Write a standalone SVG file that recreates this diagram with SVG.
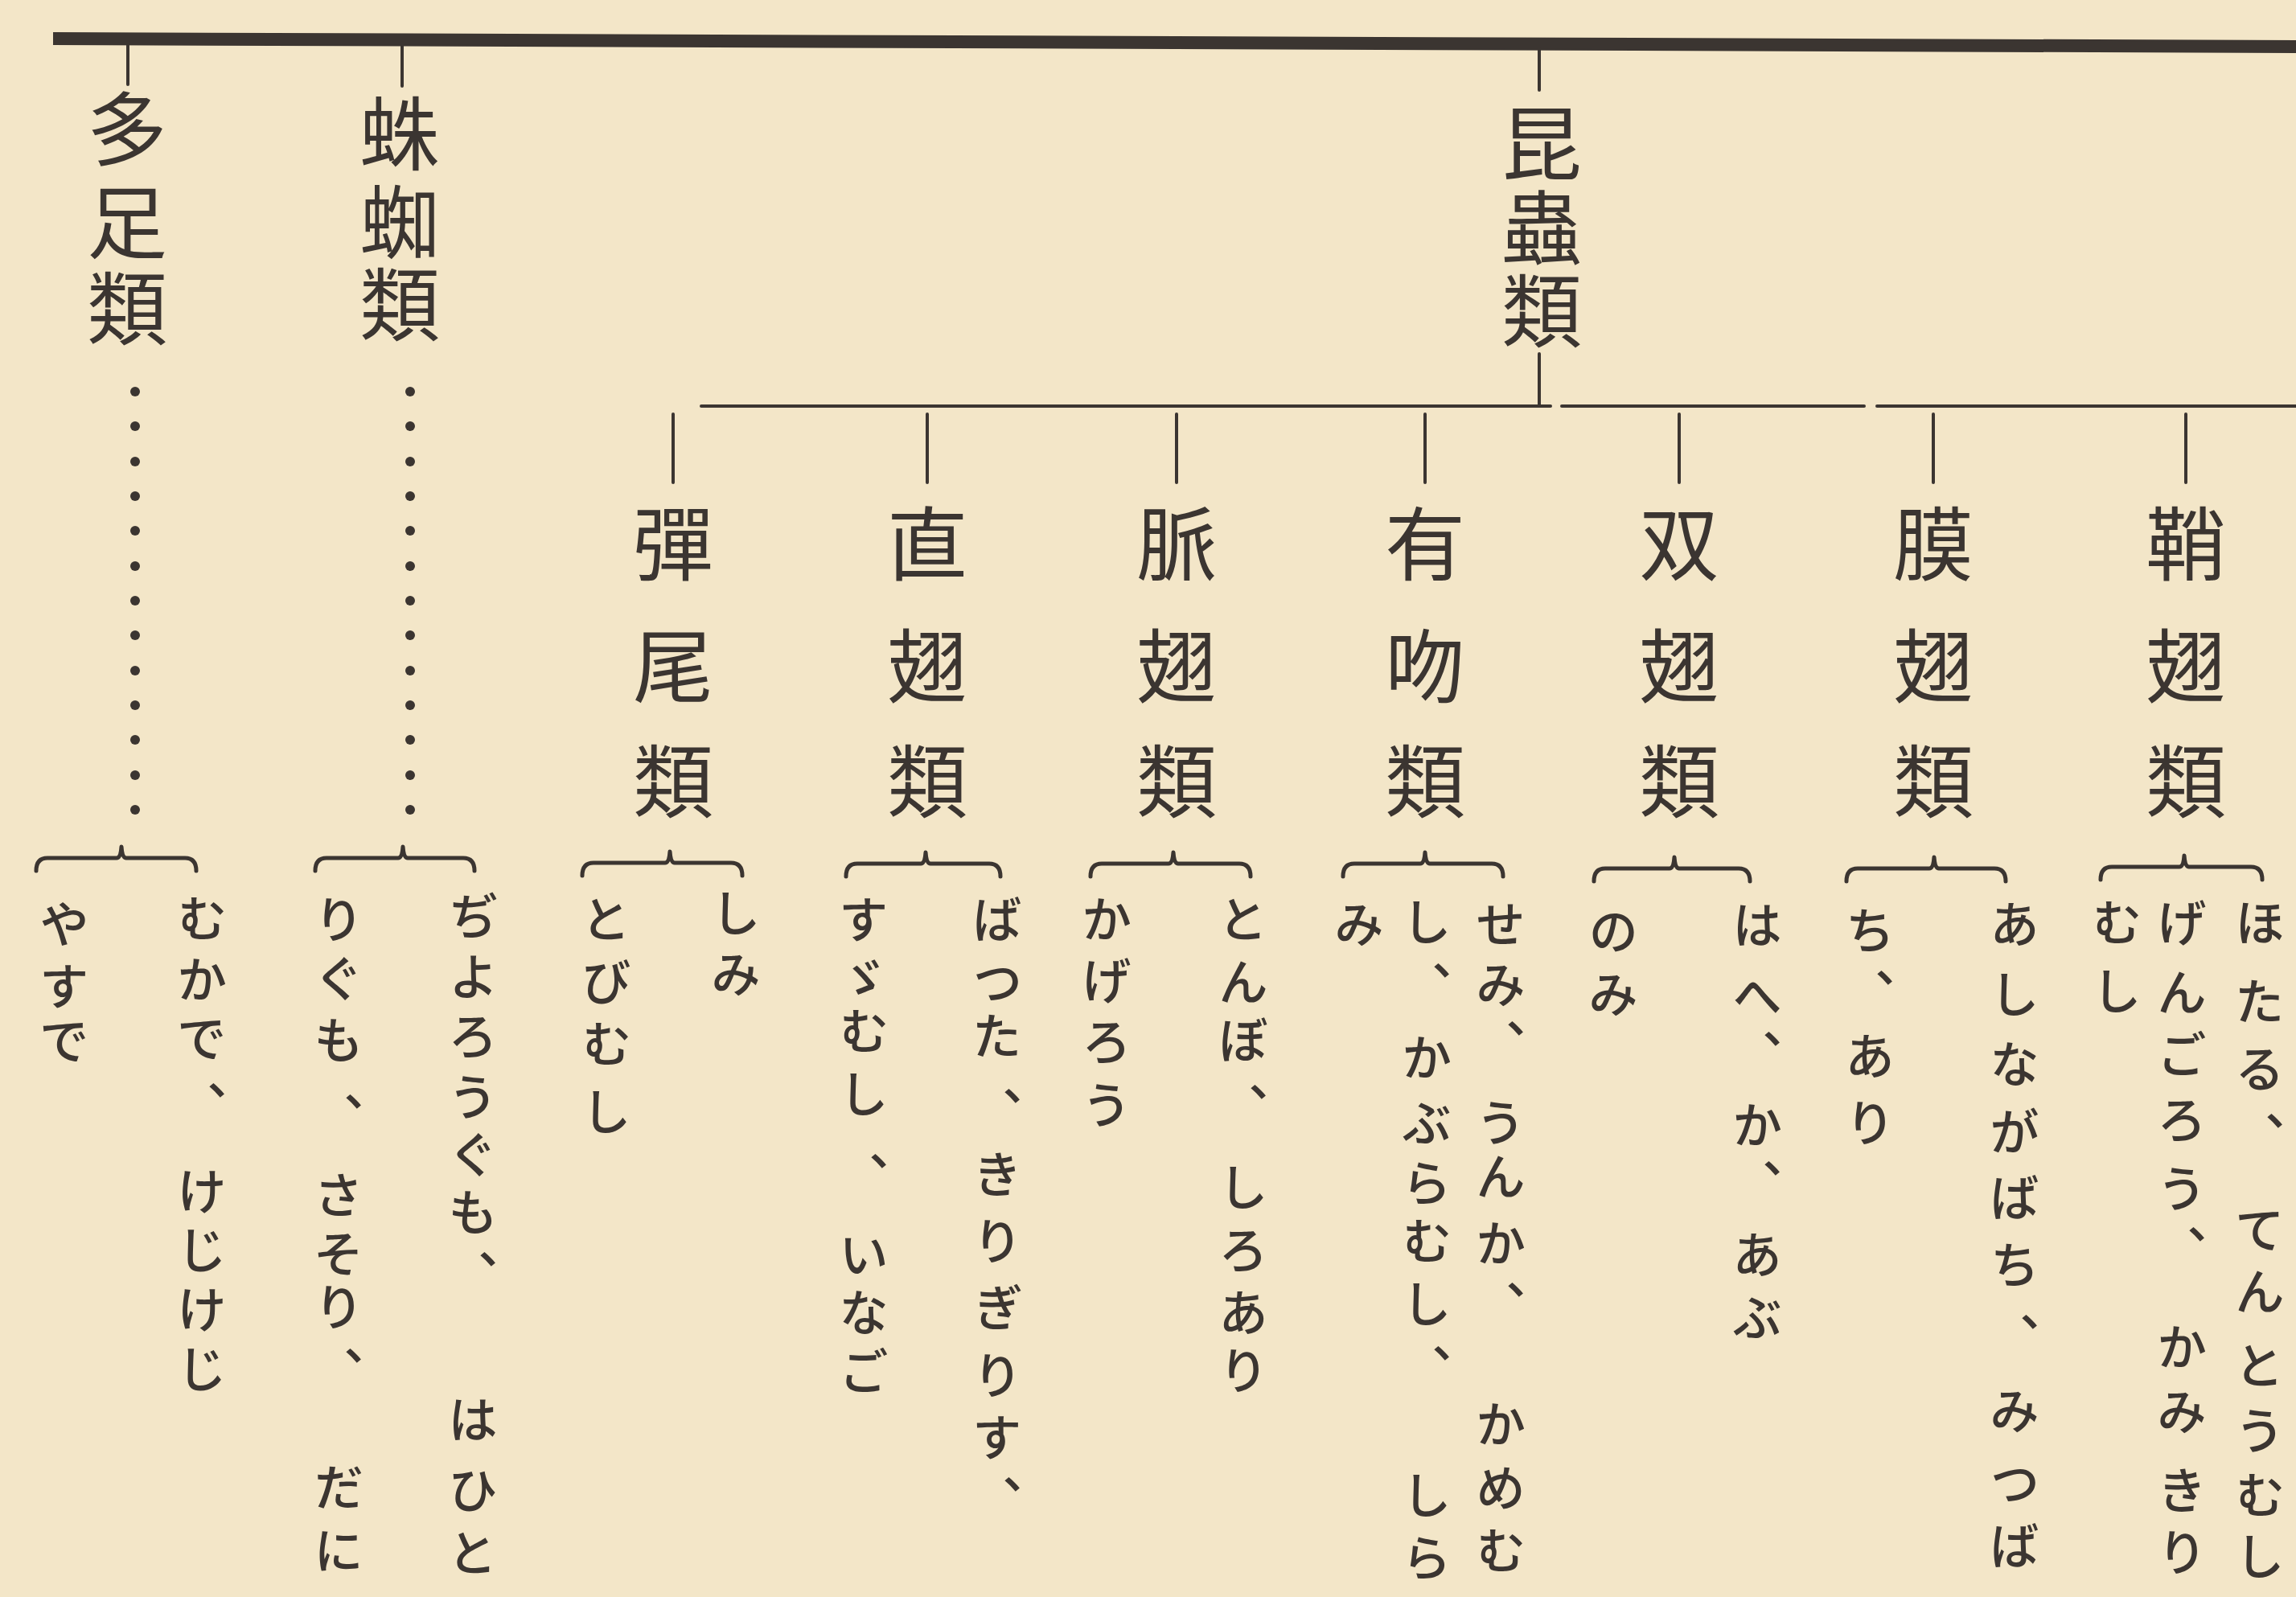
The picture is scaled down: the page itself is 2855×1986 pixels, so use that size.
<svg xmlns="http://www.w3.org/2000/svg" width="2855" height="1986" viewBox="0 0 2855 1986">
<style>
.k{font-family:"Noto Sans CJK JP","Noto Sans CJK SC",sans-serif;font-size:100px;fill:#3b3531;writing-mode:vertical-rl;}
.h{font-family:"Noto Sans CJK JP","Noto Sans CJK SC",sans-serif;font-size:62px;font-weight:500;fill:#3b3531;writing-mode:vertical-rl;}
.ln{stroke:#3b3531;fill:none;stroke-width:4;stroke-linecap:round;}
.br{stroke:#3b3531;fill:none;stroke-width:5;stroke-linecap:round;stroke-linejoin:round;}
.dot{fill:#3b3531;}
</style>
<rect x="0" y="0" width="2855" height="1986" fill="#f3e6c8"/>
<g id="connectors">
  <line x1="66" y1="48" x2="2855" y2="58" stroke="#3b3531" stroke-width="16"/>
  <line class="ln" x1="159" y1="52" x2="159" y2="105"/>
  <line class="ln" x1="500" y1="53" x2="500" y2="107"/>
  <line class="ln" x1="1914" y1="60" x2="1914" y2="112"/>
  <line class="ln" x1="1914" y1="440" x2="1914" y2="505"/>
  <line class="ln" x1="872" y1="505" x2="1928" y2="505"/>
  <line class="ln" x1="1942" y1="505" x2="2318" y2="505"/>
  <line class="ln" x1="2334" y1="505" x2="2855" y2="505"/>
  <line class="ln" x1="837" y1="515" x2="837" y2="600"/>
  <line class="ln" x1="1153" y1="515" x2="1153" y2="600"/>
  <line class="ln" x1="1463" y1="515" x2="1463" y2="600"/>
  <line class="ln" x1="1772" y1="515" x2="1772" y2="600"/>
  <line class="ln" x1="2088" y1="515" x2="2088" y2="600"/>
  <line class="ln" x1="2404" y1="515" x2="2404" y2="600"/>
  <line class="ln" x1="2718" y1="515" x2="2718" y2="600"/>
  <g id="dots-tasoku">
    <circle class="dot" cx="168" cy="487" r="6"/><circle class="dot" cx="168" cy="530" r="6"/><circle class="dot" cx="168" cy="574" r="6"/><circle class="dot" cx="168" cy="617" r="6"/><circle class="dot" cx="168" cy="660" r="6"/><circle class="dot" cx="168" cy="704" r="6"/><circle class="dot" cx="168" cy="747" r="6"/><circle class="dot" cx="168" cy="790" r="6"/><circle class="dot" cx="168" cy="834" r="6"/><circle class="dot" cx="168" cy="877" r="6"/><circle class="dot" cx="168" cy="920" r="6"/><circle class="dot" cx="168" cy="964" r="6"/><circle class="dot" cx="168" cy="1007" r="6"/>
  </g>
  <g id="dots-chishu">
    <circle class="dot" cx="510" cy="487" r="6"/><circle class="dot" cx="510" cy="530" r="6"/><circle class="dot" cx="510" cy="574" r="6"/><circle class="dot" cx="510" cy="617" r="6"/><circle class="dot" cx="510" cy="660" r="6"/><circle class="dot" cx="510" cy="704" r="6"/><circle class="dot" cx="510" cy="747" r="6"/><circle class="dot" cx="510" cy="790" r="6"/><circle class="dot" cx="510" cy="834" r="6"/><circle class="dot" cx="510" cy="877" r="6"/><circle class="dot" cx="510" cy="920" r="6"/><circle class="dot" cx="510" cy="964" r="6"/><circle class="dot" cx="510" cy="1007" r="6"/>
  </g>
  <path class="br" d="M45,1083 Q45,1067 59,1067 L145,1067 Q150,1067 151,1053 Q152,1067 157,1067 L230,1067 Q244,1067 244,1083"/>
  <path class="br" d="M392,1083 Q392,1067 406,1067 L495,1067 Q500,1067 501,1053 Q502,1067 507,1067 L576,1067 Q590,1067 590,1083"/>
  <path class="br" d="M724,1089 Q724,1073 738,1073 L827,1073 Q832,1073 833,1059 Q834,1073 839,1073 L909,1073 Q923,1073 923,1089"/>
  <path class="br" d="M1052,1090 Q1052,1074 1066,1074 L1145,1074 Q1150,1074 1151,1060 Q1152,1074 1157,1074 L1230,1074 Q1244,1074 1244,1090"/>
  <path class="br" d="M1356,1090 Q1356,1074 1370,1074 L1453,1074 Q1458,1074 1459,1060 Q1460,1074 1465,1074 L1541,1074 Q1555,1074 1555,1090"/>
  <path class="br" d="M1670,1090 Q1670,1074 1684,1074 L1766,1074 Q1771,1074 1772,1060 Q1773,1074 1778,1074 L1855,1074 Q1869,1074 1869,1090"/>
  <path class="br" d="M1982,1096 Q1982,1080 1996,1080 L2076,1080 Q2081,1080 2082,1066 Q2083,1080 2088,1080 L2162,1080 Q2176,1080 2176,1096"/>
  <path class="br" d="M2296,1096 Q2296,1080 2310,1080 L2399,1080 Q2404,1080 2405,1066 Q2406,1080 2411,1080 L2480,1080 Q2494,1080 2494,1096"/>
  <path class="br" d="M2612,1094 Q2612,1078 2626,1078 L2710,1078 Q2715,1078 2716,1064 Q2717,1078 2722,1078 L2799,1078 Q2813,1078 2813,1094"/>
</g>
<g id="n-tasoku"><text class="k" x="158" y="110 226 333">多足類</text></g>
<g id="n-chishu"><text class="k" x="497" y="116 226 328">蛛蜘類</text></g>
<g id="n-konchu"><text class="k" x="1917" y="128 233 336">昆蟲類</text></g>
<g id="n-danbi"><text class="k" x="837" y="626 778 921">彈尾類</text></g>
<g id="n-chokushi"><text class="k" x="1153" y="626 778 921">直翅類</text></g>
<g id="n-myakushi"><text class="k" x="1463" y="626 778 921">脈翅類</text></g>
<g id="n-yufun"><text class="k" x="1772" y="626 778 921">有吻類</text></g>
<g id="n-soshi"><text class="k" x="2088" y="626 778 921">双翅類</text></g>
<g id="n-makushi"><text class="k" x="2404" y="626 778 921">膜翅類</text></g>
<g id="n-shoshi"><text class="k" x="2718" y="626 778 921">鞘翅類</text></g>
<g id="l-tasoku">
  <text class="h" x="251" y="1111 1187 1260 1344 1450 1523 1597 1671">むかで、けじけじ</text>
  <text class="h" x="80" y="1118 1195 1263">やすで</text>
</g>
<g id="l-chishu">
  <text class="h" x="588" y="1108 1183 1257 1333 1404 1476 1554 1734 1822 1900">ぢよろうぐも、はひと</text>
  <text class="h" x="421" y="1112 1185 1262 1358 1455 1528 1594 1674 1818 1897">りぐも、さそり、だに</text>
</g>
<g id="l-danbi">
  <text class="h" x="915" y="1104 1180">しみ</text>
  <text class="h" x="754" y="1112 1190 1267 1351">とびむし</text>
</g>
<g id="l-chokushi">
  <text class="h" x="1240" y="1112 1190 1257 1351 1429 1512 1595 1679 1756 1834">ばつた、きりぎりす、</text>
  <text class="h" x="1074" y="1112 1185 1251 1329 1432 1529 1601 1674">すゞむし、いなご</text>
</g>
<g id="l-myakushi">
  <text class="h" x="1546" y="1112 1190 1262 1346 1445 1523 1601 1673">とんぼ、しろあり</text>
  <text class="h" x="1376" y="1112 1188 1264 1343">かげろう</text>
</g>
<g id="l-yufun">
  <text class="h" x="1866" y="1118 1193 1267 1365 1432 1515 1592 1740 1819 1897">せみ、うんか、かめむ</text>
  <text class="h" x="1774" y="1115 1195 1284 1365 1440 1512 1590 1671 1828 1906">し、かぶらむし、しら</text>
  <text class="h" x="1690" y="1118">み</text>
</g>
<g id="l-soshi">
  <text class="h" x="2185" y="1119 1207 1280 1368 1441 1529 1607">はへ、か、あぶ</text>
  <text class="h" x="2006" y="1127 1205">のみ</text>
</g>
<g id="l-makushi">
  <text class="h" x="2505" y="1118 1205 1292 1376 1458 1542 1632 1723 1813 1891">あしながばち、みつば</text>
  <text class="h" x="2325" y="1126 1204 1282 1365">ち、あり</text>
</g>
<g id="l-shoshi">
  <text class="h" x="2810" y="1116 1214 1298 1382 1498 1575 1667 1748 1828 1904">ほたる、てんとうむし</text>
  <text class="h" x="2713" y="1116 1203 1280 1361 1447 1523 1644 1724 1822 1899">げんごろう、かみきり</text>
  <text class="h" x="2632" y="1116 1201">むし</text>
</g>
</svg>
